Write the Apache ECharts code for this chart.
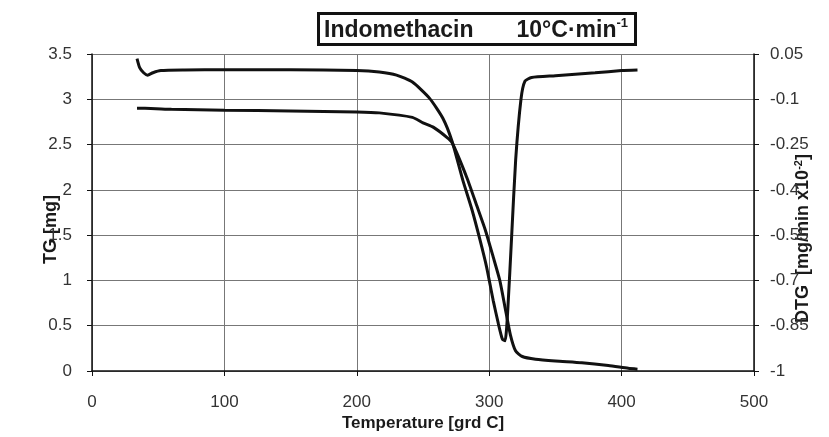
<!DOCTYPE html>
<html>
<head>
<meta charset="utf-8">
<script src="https://cdn.jsdelivr.net/npm/echarts@6/dist/echarts.min.js"></script>
<style>
html,body{margin:0;padding:0;background:#fff;}
#chart{width:829px;height:437px;}
</style>
</head>
<body>
<div id="chart"></div>
<script>
// Temperature (°C) and TG (mg) readings
var tgTemp  = [34, 40, 60, 100, 150, 200, 217, 242, 250, 258, 268, 272, 283, 291, 297, 303, 308, 312, 316, 320, 325, 335, 350, 370, 390, 405, 412];
var tgValue = [2.90, 2.90, 2.89, 2.88, 2.87, 2.86, 2.85, 2.80, 2.74, 2.69, 2.58, 2.52, 2.14, 1.81, 1.56, 1.26, 1.00, 0.70, 0.40, 0.22, 0.16, 0.13, 0.11, 0.09, 0.06, 0.03, 0.02];

// Temperature (°C) and DTG (mg/min x10^-2) readings
var dtgTemp  = [34, 36, 39, 42, 46, 52, 70, 100, 150, 200, 217, 230, 242, 255, 265, 272, 280, 287, 293, 298, 303, 307, 310, 312, 314, 317, 320, 324, 327, 332, 350, 380, 400, 412];
var dtgValue = [0.035, 0.005, -0.012, -0.02, -0.012, -0.005, -0.003, -0.002, -0.002, -0.005, -0.01, -0.02, -0.043, -0.097, -0.163, -0.24, -0.367, -0.466, -0.565, -0.655, -0.766, -0.845, -0.895, -0.9, -0.8, -0.55, -0.3, -0.1, -0.04, -0.028, -0.022, -0.012, -0.005, -0.003];

// Axis settings
var xTicks = {min: 0, max: 500, interval: 100};
var tgTicks = {min: 0, max: 3.5, interval: 0.5};
var dtgTicks = {min: -1, max: 0.05, interval: 0.15};

var tgData = tgTemp.map(function (t, i) { return [t, tgValue[i]]; });
var dtgData = dtgTemp.map(function (t, i) { return [t, dtgValue[i]]; });

var FONT = 'Liberation Sans, Arial, sans-serif';
var INK = '#1a1a1a';

var chart = echarts.init(document.getElementById('chart'), null, {renderer: 'canvas'});
chart.setOption({
  backgroundColor: '#fff',
  animation: false,
  title: {
    text: '{a|Indomethacin}{g|}{a|10°C·min}{s|-1}',
    left: 318,
    top: 13,
    padding: [4, 8, 3, 6],
    borderColor: '#111',
    borderWidth: 3,
    textStyle: {
      rich: {
        a: {fontFamily: FONT, fontSize: 23, fontWeight: 'bold', color: INK, lineHeight: 27},
        g: {width: 43},
        s: {fontFamily: FONT, fontSize: 13, fontWeight: 'bold', color: INK, verticalAlign: 'top', lineHeight: 27, padding: [0, 0, 10, 0]}
      }
    }
  },
  grid: {left: 92, right: 75, top: 54, bottom: 66, containLabel: false},
  xAxis: {
    type: 'value',
    min: xTicks.min, max: xTicks.max, interval: xTicks.interval,
    name: 'Temperature [grd C]',
    nameLocation: 'middle',
    nameGap: 44,
    nameMoveOverlap: false,
    nameTextStyle: {fontFamily: FONT, fontSize: 17, fontWeight: 'bold', color: INK},
    axisLine: {show: true, lineStyle: {color: '#111', width: 1.5}},
    axisTick: {show: true, inside: false, length: 5, lineStyle: {color: '#111'}},
    axisLabel: {fontFamily: FONT, fontSize: 17, color: '#333', margin: 23},
    splitLine: {show: true, lineStyle: {color: '#777', width: 1}}
  },
  yAxis: [
    {
      type: 'value',
      position: 'left',
      min: tgTicks.min, max: tgTicks.max, interval: tgTicks.interval,
      name: 'TG [mg]',
      nameLocation: 'middle',
      nameRotate: 90,
      nameGap: 32,
      nameMoveOverlap: false,
      nameTextStyle: {fontFamily: FONT, fontSize: 18, fontWeight: 'bold', color: INK, padding: [0, 34, 0, 0]},
      axisLine: {show: true, lineStyle: {color: '#111', width: 1.5}},
      axisTick: {show: true, length: 5, lineStyle: {color: '#111'}},
      axisLabel: {fontFamily: FONT, fontSize: 17, color: '#333', margin: 20},
      splitLine: {show: true, lineStyle: {color: '#777', width: 1}}
    },
    {
      type: 'value',
      position: 'right',
      min: dtgTicks.min, max: dtgTicks.max, interval: dtgTicks.interval,
      name: '{n|DTG  [mg/min x10}{s|-2}{n|]}',
      nameLocation: 'middle',
      nameRotate: 90,
      nameGap: 39,
      nameMoveOverlap: false,
      nameTextStyle: {
        color: INK,
        padding: [0, 52, 0, 0],
        rich: {
          n: {fontFamily: FONT, fontSize: 18, fontWeight: 'bold', color: INK, lineHeight: 20},
          s: {fontFamily: FONT, fontSize: 11, fontWeight: 'bold', color: INK, verticalAlign: 'top', lineHeight: 20, padding: [0, 0, 7, 0]}
        }
      },
      axisLine: {show: true, lineStyle: {color: '#111', width: 1.5}},
      axisTick: {show: true, length: 5, lineStyle: {color: '#111'}},
      axisLabel: {
        fontFamily: FONT, fontSize: 17, color: '#333', margin: 16,
        formatter: function (v) { return String(parseFloat(v.toFixed(2))); }
      },
      splitLine: {show: false}
    }
  ],
  series: [
    {
      name: 'TG',
      type: 'line',
      yAxisIndex: 0,
      data: tgData,
      showSymbol: false,
      smooth: 0.2,
      lineStyle: {color: '#111', width: 3}
    },
    {
      name: 'DTG',
      type: 'line',
      yAxisIndex: 1,
      data: dtgData,
      showSymbol: false,
      smooth: 0.2,
      lineStyle: {color: '#111', width: 3}
    }
  ]
});
</script>
</body>
</html>
